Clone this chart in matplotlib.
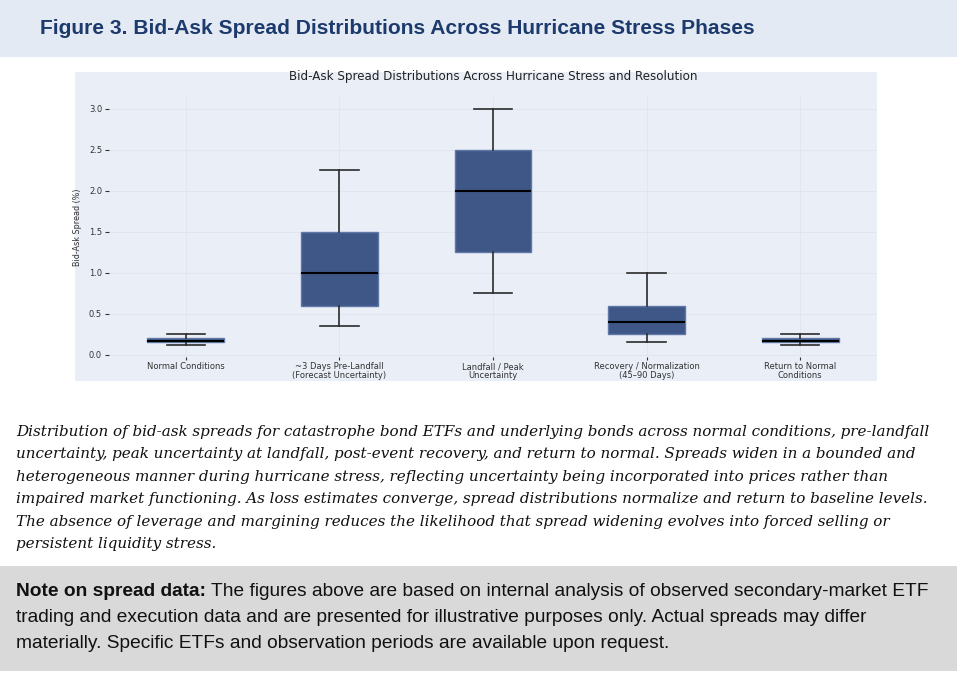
import matplotlib
matplotlib.use("Agg")
import matplotlib.pyplot as plt
from matplotlib.patches import Rectangle
from matplotlib.text import Annotation

plt.rcParams["font.family"] = "DejaVu Sans"

# ---- Data ----
phases = [
    "Normal Conditions",
    "~3 Days Pre-Landfall\n(Forecast Uncertainty)",
    "Landfall / Peak\nUncertainty",
    "Recovery / Normalization\n(45\u201390 Days)",
    "Return to Normal\nConditions",
]
whisker_low = [0.12, 0.35, 0.75, 0.15, 0.12]
q1 = [0.15, 0.60, 1.25, 0.25, 0.15]
median = [0.17, 1.00, 2.00, 0.40, 0.17]
q3 = [0.20, 1.50, 2.50, 0.60, 0.20]
whisker_high = [0.25, 2.25, 3.00, 1.00, 0.25]

header_title = "Figure 3. Bid-Ask Spread Distributions Across Hurricane Stress Phases"
chart_title = "Bid-Ask Spread Distributions Across Hurricane Stress and Resolution"
y_label = "Bid-Ask Spread (%)"

caption_lines = [
    "Distribution of bid-ask spreads for catastrophe bond ETFs and underlying bonds across normal conditions, pre-landfall",
    "uncertainty, peak uncertainty at landfall, post-event recovery, and return to normal. Spreads widen in a bounded and",
    "heterogeneous manner during hurricane stress, reflecting uncertainty being incorporated into prices rather than",
    "impaired market functioning. As loss estimates converge, spread distributions normalize and return to baseline levels.",
    "The absence of leverage and margining reduces the likelihood that spread widening evolves into forced selling or",
    "persistent liquidity stress.",
]
note_bold = "Note on spread data:"
note_lines = [
    "The figures above are based on internal analysis of observed secondary-market ETF",
    "trading and execution data and are presented for illustrative purposes only. Actual spreads may differ",
    "materially. Specific ETFs and observation periods are available upon request.",
]

# ---- Figure ----
W, H = 974, 689
fig = plt.figure(figsize=(W / 100, H / 100), dpi=100)
fig.patch.set_facecolor("white")


def fx(px):
    return px / W


def fy(py):
    return 1 - py / H


# header band
fig.patches.append(Rectangle((0, fy(57)), fx(957), 57 / H, transform=fig.transFigure,
                             facecolor="#e3eaf4", edgecolor="none", zorder=-5))
fig.text(fx(40), fy(29), header_title, family="Liberation Sans", weight="bold",
         fontsize=15.15, color="#1c3a6b", va="center", ha="left")

# chart panel background
panel_bg = "#eaeef7"
fig.patches.append(Rectangle((fx(75), fy(381)), fx(877 - 75), (381 - 72) / H,
                             transform=fig.transFigure, facecolor=panel_bg,
                             edgecolor="none", zorder=-5))

ax = fig.add_axes([fx(109), fy(356.7), fx(877 - 109), (356.7 - 97) / H])
ax.set_facecolor(panel_bg)

stats = []
for i in range(len(phases)):
    stats.append({
        "label": phases[i],
        "whislo": whisker_low[i],
        "q1": q1[i],
        "med": median[i],
        "q3": q3[i],
        "whishi": whisker_high[i],
        "fliers": [],
    })

positions = list(range(1, len(phases) + 1))
ax.bxp(stats, positions=positions, widths=0.5, capwidths=0.25, patch_artist=True,
       showfliers=False,
       boxprops=dict(facecolor="#3e5787", edgecolor="#5f78a8", linewidth=1.0),
       medianprops=dict(color="black", linewidth=1.5),
       whiskerprops=dict(color="#2b2b2b", linewidth=1.2),
       capprops=dict(color="#2b2b2b", linewidth=1.2))

ax.set_xlim(0.5, 5.5)
ax.grid(True, color="#dfe4ee", linewidth=0.6)
ax.set_axisbelow(True)
for s in ax.spines.values():
    s.set_visible(False)

ax.tick_params(axis="y", labelsize=6, length=3, width=0.8, color="#333333",
               labelcolor="#333333", pad=2)
ax.tick_params(axis="x", labelsize=6, length=2.5, width=0.8, color="#333333",
               labelcolor="#333333", pad=1.5)
for lbl in ax.get_xticklabels():
    lbl.set_linespacing(0.95)

ax.set_ylabel(y_label, fontsize=5.8, color="#333333", labelpad=5)
ax.set_title(chart_title, fontsize=8.6, color="#222222", pad=12)

# caption, one line at a time
caption_y = [432, 454.4, 476.8, 499.2, 521.6, 544]
for y, line in zip(caption_y, caption_lines):
    fig.text(fx(16), fy(y), line, family="DejaVu Serif", style="italic",
             fontsize=10.93, color="#111111", va="center", ha="left")

# note box
fig.patches.append(Rectangle((0, fy(671)), fx(957), (671 - 566) / H,
                             transform=fig.transFigure, facecolor="#d9d9d9",
                             edgecolor="none", zorder=-5))
note_y = [591, 617, 643]
note_size = 13.75
bold = fig.text(fx(16), fy(note_y[0]), note_bold, family="Liberation Sans",
                weight="bold", fontsize=note_size, color="#111111", va="center", ha="left")
fig.add_artist(Annotation(note_lines[0], xy=(1, 0), xycoords=bold, xytext=(3.8, 0),
                          textcoords="offset points", family="Liberation Sans",
                          fontsize=note_size, color="#111111", va="bottom", ha="left"))
for y, line in zip(note_y[1:], note_lines[1:]):
    fig.text(fx(16), fy(y), line, family="Liberation Sans", fontsize=note_size,
             color="#111111", va="center", ha="left")

fig.savefig("out.png", dpi=100)
